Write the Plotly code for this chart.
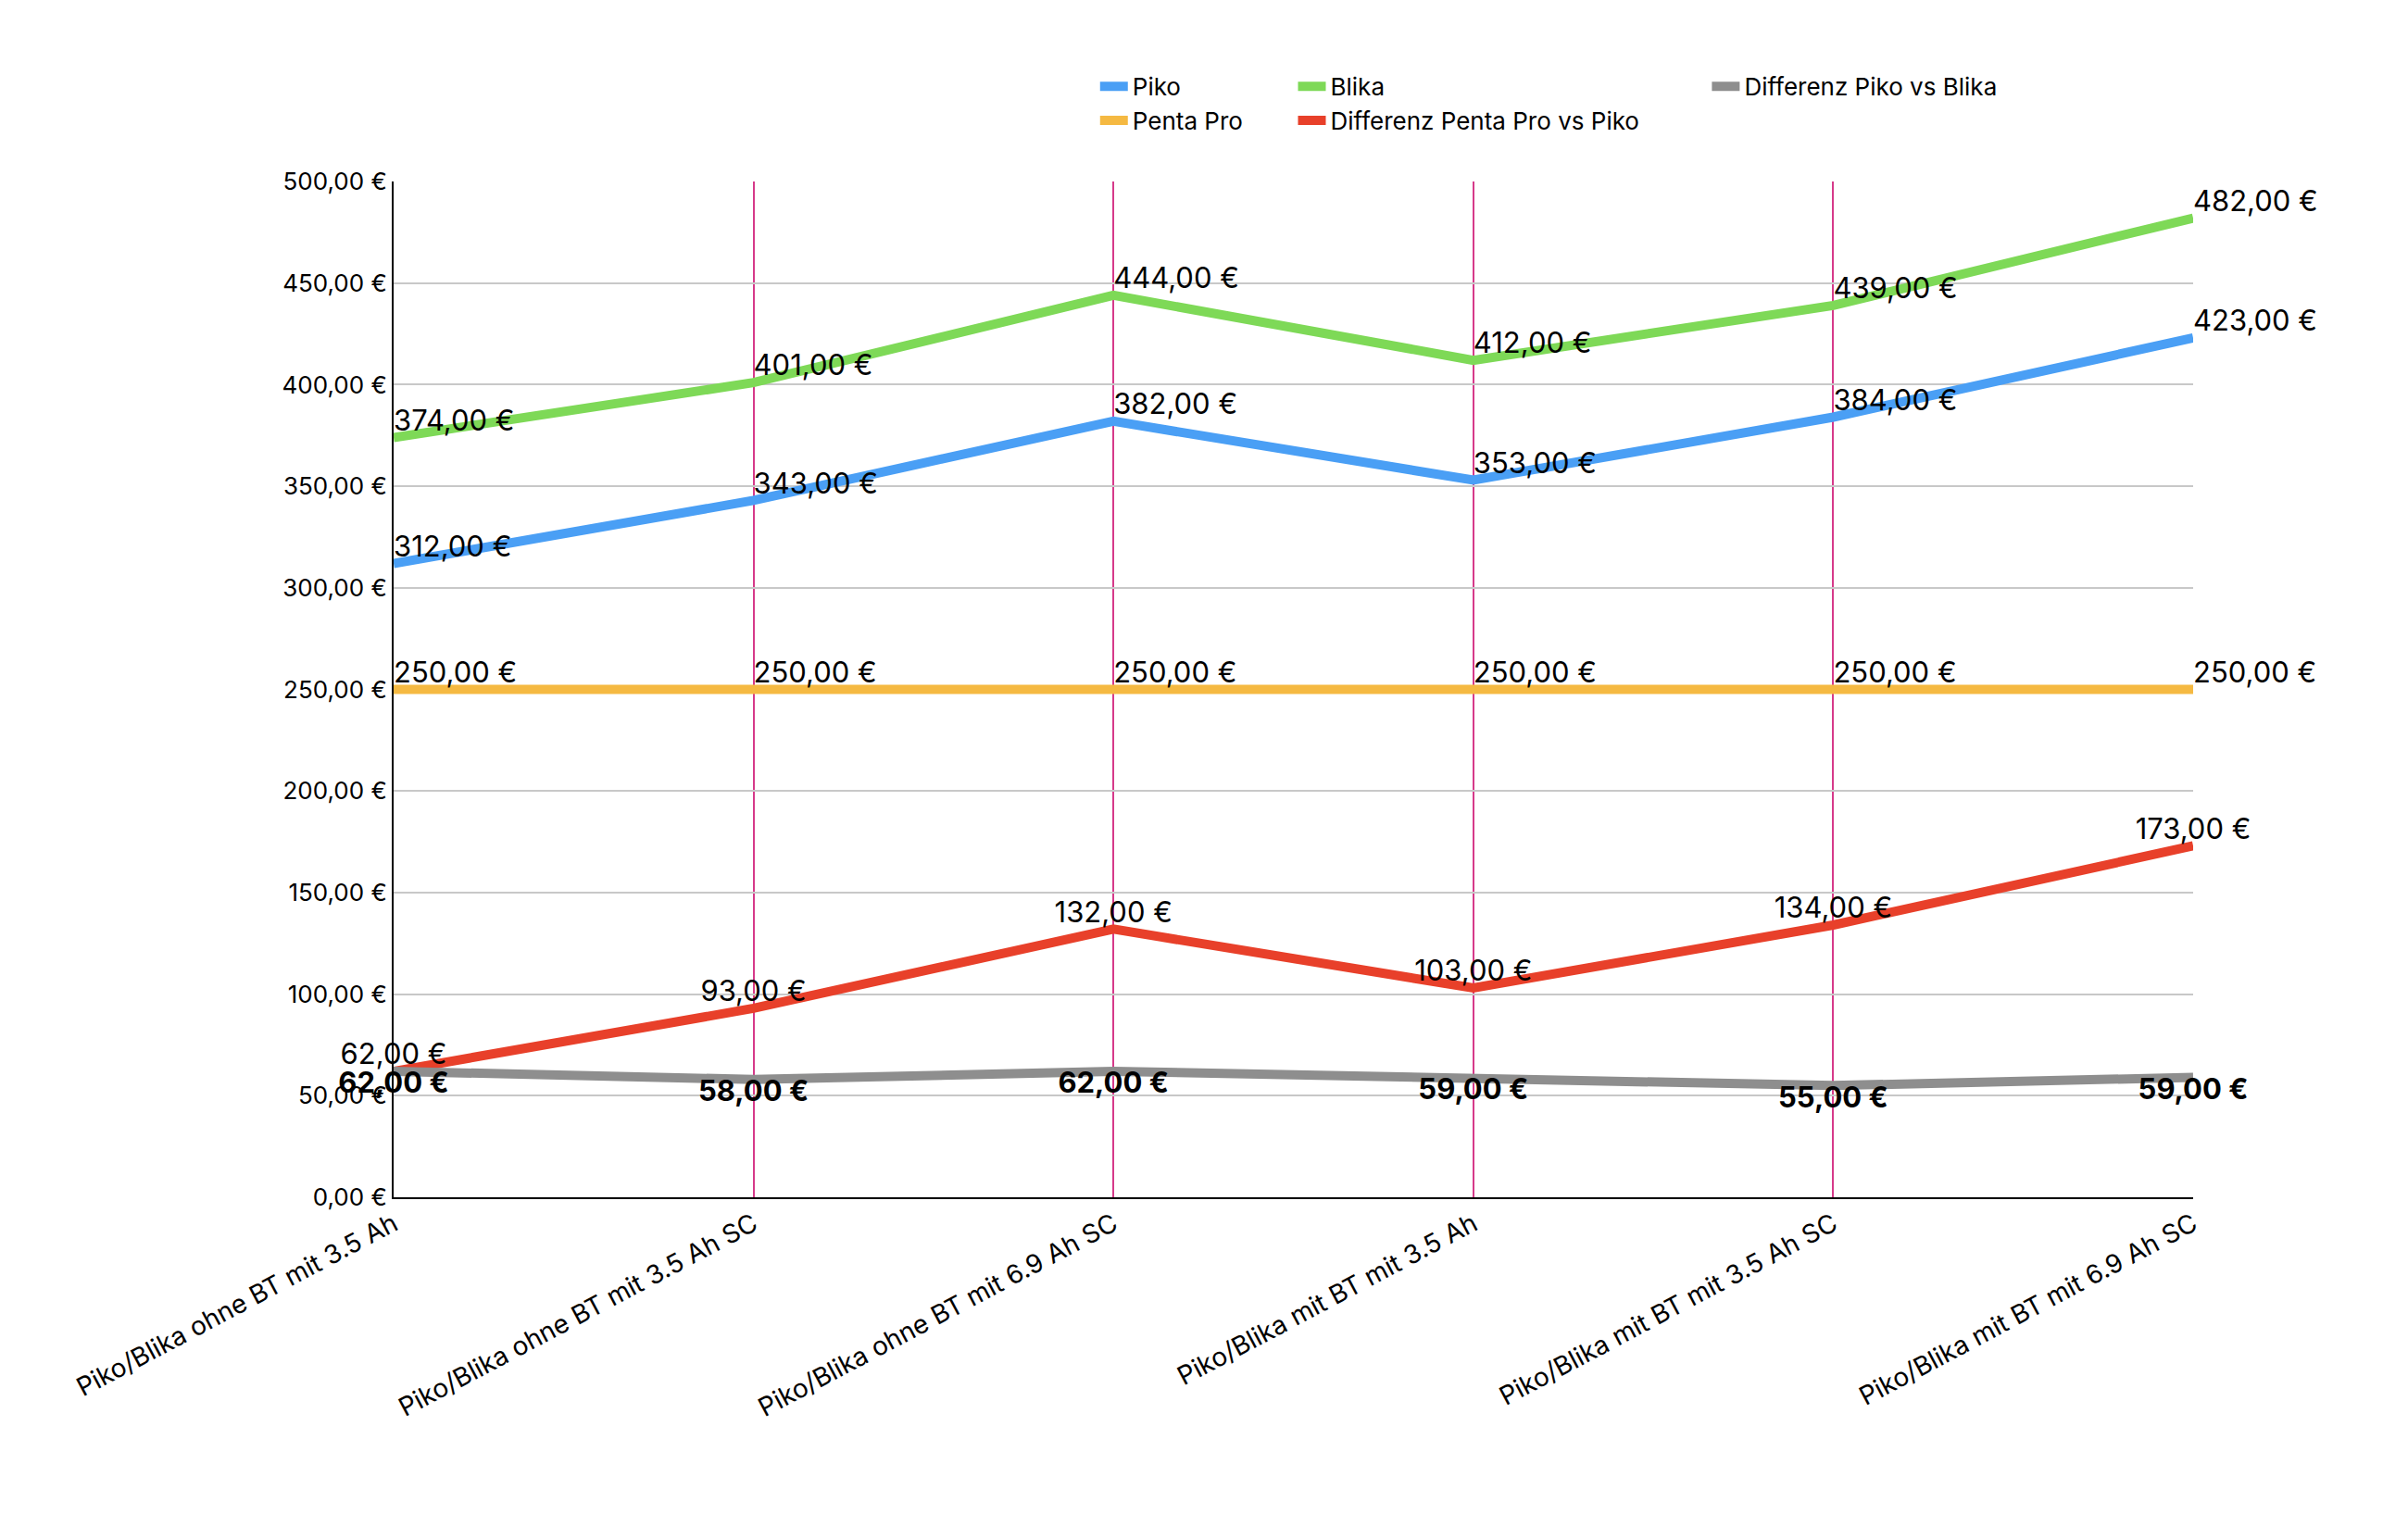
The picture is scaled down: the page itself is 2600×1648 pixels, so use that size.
import plotly.graph_objects as go

categories = ["Piko/Blika ohne BT mit 3.5 Ah", "Piko/Blika ohne BT mit 3.5 Ah SC",
              "Piko/Blika ohne BT mit 6.9 Ah SC", "Piko/Blika mit BT mit 3.5 Ah",
              "Piko/Blika mit BT mit 3.5 Ah SC", "Piko/Blika mit BT mit 6.9 Ah SC"]
piko = [312, 343, 382, 353, 384, 423]
blika = [374, 401, 444, 412, 439, 482]
penta = [250, 250, 250, 250, 250, 250]
diff_penta_piko = [62, 93, 132, 103, 134, 173]
diff_piko_blika = [62, 58, 62, 59, 55, 59]

FONT = "Inter, Roboto, sans-serif"
fig = go.Figure()


def add(name, y, color, pos, legend, bold=False):
    fig.add_trace(go.Scatter(
        x=list(range(len(categories))), y=y, name=name, mode="lines+text",
        line=dict(color=color, width=10),
        text=[f"{v:.2f}".replace(".", ",") + " €" for v in y],
        texttemplate="<b>%{text}</b>" if bold else "%{text}",
        textposition=pos, textfont=dict(size=31, color="black", family=FONT),
        legend=legend, cliponaxis=False))


add("Piko", piko, "#4a9ff5", "top right", "legend")
add("Penta Pro", penta, "#f5b942", "top right", "legend")
add("Blika", blika, "#7ed957", "top right", "legend2")
add("Differenz Penta Pro vs Piko", diff_penta_piko, "#e8402a", "top center", "legend2")
add("Differenz Piko vs Blika", diff_piko_blika, "#8e8e8e", "bottom center", "legend3", bold=True)

leg = dict(orientation="v", yanchor="top", xanchor="left", y=1.115,
           font=dict(size=26, family=FONT, color="black"), bgcolor="rgba(0,0,0,0)",
           itemwidth=30, tracegroupgap=0)
fig.update_layout(
    width=2600, height=1648, plot_bgcolor="white", paper_bgcolor="white",
    margin=dict(l=417, r=240, t=188, b=363), separators=",.",
    font=dict(family=FONT, size=26, color="black"),
    legend=dict(leg, x=0.39), legend2=dict(leg, x=0.5), legend3=dict(leg, x=0.73),
    xaxis=dict(tickvals=list(range(len(categories))), ticktext=categories, range=[0, 5],
               tickangle=-28, showgrid=True, gridcolor="#d63a8a", gridwidth=1.5,
               showline=True, linecolor="black", linewidth=2, zeroline=False,
               tickfont=dict(size=28)),
    yaxis=dict(range=[0, 500], dtick=50, tickformat=".2f", ticksuffix=" €",
               showgrid=True, gridcolor="#c8c8c8", gridwidth=1.5,
               showline=True, linecolor="black", linewidth=2, zeroline=False,
               tickfont=dict(size=26)),
)
fig.write_html("out.html")
